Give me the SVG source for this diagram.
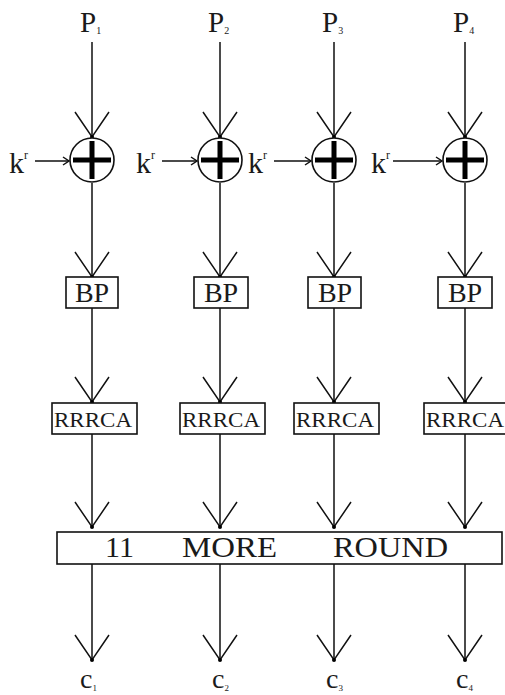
<svg xmlns="http://www.w3.org/2000/svg" width="505" height="695" viewBox="0 0 505 695">
<style>
.t{font-family:"Liberation Serif","DejaVu Serif",serif;fill:#1a1a1a}
.ln{stroke:#111;stroke-width:1.5;fill:none}
.box{stroke:#111;stroke-width:1.6;fill:#fff}
.plus{stroke:#000;stroke-width:5}
</style>
<defs>
<g id="ah"><path d="M-17,-25 L0,0 L17,-25" class="ln"/><circle r="2" fill="#000"/></g>
<g id="sah"><path d="M-6,-4 L0,0 L-6,4" class="ln" stroke-width="1.2"/></g>
</defs>
<rect width="505" height="695" fill="#fff"/>
<g id="connectors">
<!-- P to XOR -->
<path class="ln" d="M92,42V137M220,42V137M334,42V137M465,42V137"/>
<use href="#ah" x="92" y="137"/><use href="#ah" x="220" y="137"/><use href="#ah" x="334" y="137"/><use href="#ah" x="465" y="137"/>
<!-- k arrows -->
<path class="ln" d="M35,161H69M162,161H197M274,161H311M393,161H442"/>
<use href="#sah" x="69" y="161"/><use href="#sah" x="197" y="161"/><use href="#sah" x="311" y="161"/><use href="#sah" x="442" y="161"/>
<!-- XOR to BP -->
<path class="ln" d="M92,183V277M220,183V277M334,183V277M465,183V277"/>
<use href="#ah" x="92" y="277"/><use href="#ah" x="220" y="277"/><use href="#ah" x="334" y="277"/><use href="#ah" x="465" y="277"/>
<!-- BP to RRRCA -->
<path class="ln" d="M92,308V403M220,308V403M334,308V403M465,308V403"/>
<use href="#ah" x="92" y="402"/><use href="#ah" x="220" y="402"/><use href="#ah" x="334" y="402"/><use href="#ah" x="465" y="402"/>
<!-- RRRCA to round box -->
<path class="ln" d="M92,434V527M220,434V527M334,434V527M465,434V527"/>
<use href="#ah" x="92" y="527"/><use href="#ah" x="220" y="527"/><use href="#ah" x="334" y="527"/><use href="#ah" x="465" y="527"/>
<!-- round box to outputs -->
<path class="ln" d="M92,564V660M220,564V660M334,564V660M465,564V660"/>
<use href="#ah" x="92" y="660"/><use href="#ah" x="220" y="660"/><use href="#ah" x="334" y="660"/><use href="#ah" x="465" y="660"/>
</g>
<g id="p1"><text class="t" x="80" y="32" font-size="29">P<tspan font-size="10" dy="2">1</tspan></text></g>
<g id="p2"><text class="t" x="208" y="32" font-size="29">P<tspan font-size="10" dy="2">2</tspan></text></g>
<g id="p3"><text class="t" x="322" y="32" font-size="29">P<tspan font-size="10" dy="2">3</tspan></text></g>
<g id="p4"><text class="t" x="453" y="32" font-size="29">P<tspan font-size="10" dy="2">4</tspan></text></g>
<g id="k1"><text class="t" x="9" y="173" font-size="30">k<tspan font-size="12" dy="-14">r</tspan></text></g>
<g id="k2"><text class="t" x="136" y="173" font-size="30">k<tspan font-size="12" dy="-14">r</tspan></text></g>
<g id="k3"><text class="t" x="248" y="173" font-size="30">k<tspan font-size="12" dy="-14">r</tspan></text></g>
<g id="k4"><text class="t" x="371" y="173" font-size="30">k<tspan font-size="12" dy="-14">r</tspan></text></g>
<g id="xor1"><circle cx="92" cy="160" r="22" class="box"/><path class="plus" d="M73,160H111M92,141V179"/></g>
<g id="xor2"><circle cx="220" cy="160" r="22" class="box"/><path class="plus" d="M201,160H239M220,141V179"/></g>
<g id="xor3"><circle cx="334" cy="160" r="22" class="box"/><path class="plus" d="M315,160H353M334,141V179"/></g>
<g id="xor4"><circle cx="465" cy="160" r="22" class="box"/><path class="plus" d="M446,160H484M465,141V179"/></g>
<g id="bp1"><rect x="66" y="277" width="52" height="31" class="box"/><text class="t" x="92" y="302" font-size="28" text-anchor="middle">BP</text></g>
<g id="bp2"><rect x="194" y="277" width="54" height="31" class="box"/><text class="t" x="221" y="302" font-size="28" text-anchor="middle">BP</text></g>
<g id="bp3"><rect x="308" y="277" width="53" height="31" class="box"/><text class="t" x="335" y="302" font-size="28" text-anchor="middle">BP</text></g>
<g id="bp4"><rect x="438" y="277" width="54" height="31" class="box"/><text class="t" x="465" y="302" font-size="28" text-anchor="middle">BP</text></g>
<g id="r1"><rect x="52" y="403" width="85" height="31" class="box"/><text class="t" x="54" y="427" font-size="21" textLength="78" lengthAdjust="spacingAndGlyphs">RRRCA</text></g>
<g id="r2"><rect x="180" y="403" width="85" height="31" class="box"/><text class="t" x="182" y="427" font-size="21" textLength="78" lengthAdjust="spacingAndGlyphs">RRRCA</text></g>
<g id="r3"><rect x="294" y="403" width="85" height="31" class="box"/><text class="t" x="296" y="427" font-size="21" textLength="78" lengthAdjust="spacingAndGlyphs">RRRCA</text></g>
<g id="r4"><rect x="424" y="403" width="85" height="31" class="box"/><text class="t" x="426" y="427" font-size="21" textLength="78" lengthAdjust="spacingAndGlyphs">RRRCA</text></g>
<g id="round"><rect x="57" y="532" width="445" height="32" class="box"/>
<text class="t" x="105" y="557" font-size="30">11</text>
<text class="t" x="182" y="557" font-size="30" textLength="95" lengthAdjust="spacingAndGlyphs">MORE</text>
<text class="t" x="333" y="557" font-size="30" textLength="115" lengthAdjust="spacingAndGlyphs">ROUND</text></g>
<g id="c1"><text class="t" x="80" y="688" font-size="28">c<tspan font-size="9" dy="3">1</tspan></text></g>
<g id="c2"><text class="t" x="212" y="688" font-size="28">c<tspan font-size="9" dy="3">2</tspan></text></g>
<g id="c3"><text class="t" x="326" y="688" font-size="28">c<tspan font-size="9" dy="3">3</tspan></text></g>
<g id="c4"><text class="t" x="456" y="688" font-size="28">c<tspan font-size="9" dy="3">4</tspan></text></g>
</svg>
